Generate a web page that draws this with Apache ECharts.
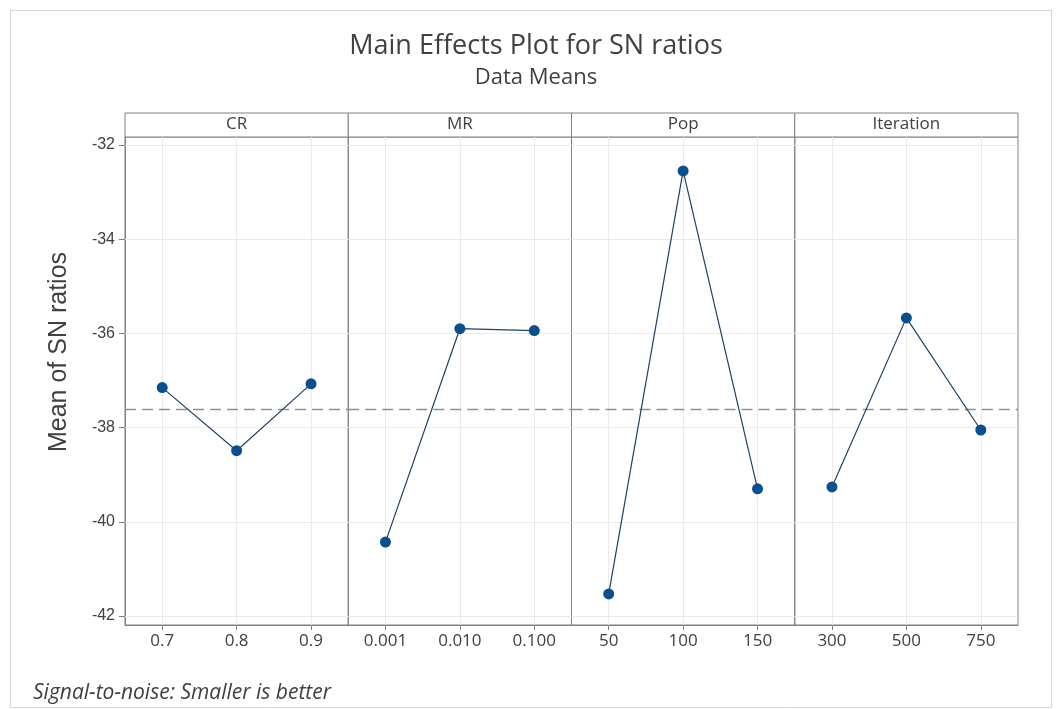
<!DOCTYPE html>
<html>
<head>
<meta charset="utf-8">
<script src="https://cdn.jsdelivr.net/npm/echarts@6/dist/echarts.min.js"></script>
<style>
html,body{margin:0;padding:0;background:#ffffff;}
#chart{width:1061px;height:709px;}
</style>
</head>
<body>
<div id="chart"></div>
<script>
// ---- data ----
const factors = ['CR', 'MR', 'Pop', 'Iteration'];
const crLevels = ['0.7', '0.8', '0.9'];
const mrLevels = ['0.001', '0.010', '0.100'];
const popLevels = ['50', '100', '150'];
const iterLevels = ['300', '500', '750'];
const crMeans = [-37.15, -38.49, -37.07];
const mrMeans = [-40.43, -35.90, -35.94];
const popMeans = [-41.53, -32.55, -39.30];
const iterMeans = [-39.26, -35.67, -38.05];
const overallMean = -37.61;
const yTicks = [-42, -40, -38, -36, -34, -32];
const yMin = -42.19;
const yMax = -31.83;

const titleText = 'Main Effects Plot for SN ratios';
const subtitleText = 'Data Means';
const yAxisTitle = 'Mean of SN ratios';
const footerText = 'Signal-to-noise: Smaller is better';

// ---- layout ----
const W = 1061, H = 709;
const plotLeft = 125, plotRight = 1018, plotTop = 137, plotBottom = 625, headerTop = 113;
const panelW = (plotRight - plotLeft) / 4;

const levels = [crLevels, mrLevels, popLevels, iterLevels];
const means = [crMeans, mrMeans, popMeans, iterMeans];

const axisGray = '#808080';
const textGray = '#404040';

const grids = [], xAxes = [], yAxes = [], series = [], graphics = [];

factors.forEach((f, i) => {
  grids.push({
    left: plotLeft + i * panelW,
    width: panelW,
    top: plotTop,
    height: plotBottom - plotTop,
    show: true,
    borderColor: axisGray,
    borderWidth: 1,
    backgroundColor: 'transparent',
    containLabel: false
  });
  xAxes.push({
    type: 'category',
    gridIndex: i,
    data: levels[i],
    boundaryGap: true,
    axisLine: { show: true, lineStyle: { color: axisGray, width: 1 } },
    axisTick: { show: true, alignWithLabel: true, length: 5, lineStyle: { color: axisGray } },
    axisLabel: { show: true, color: textGray, fontSize: 17, fontFamily: 'Open Sans', margin: 8 },
    splitLine: { show: false }
  });
  yAxes.push({
    type: 'value',
    gridIndex: i,
    min: yMin,
    max: yMax,
    axisLine: { show: i === 0, lineStyle: { color: axisGray, width: 1 } },
    axisTick: { show: i === 0, length: 6, customValues: yTicks, lineStyle: { color: axisGray } },
    axisLabel: {
      show: i === 0, customValues: yTicks, color: textGray, fontSize: 16,
      fontFamily: 'Liberation Sans', margin: 10,
      formatter: v => String(v)
    },
    splitLine: { show: false }
  });
  // gridlines (faint)
  series.push({
    type: 'line',
    xAxisIndex: i, yAxisIndex: i,
    data: means[i],
    symbol: 'none',
    lineStyle: { opacity: 0 },
    silent: true,
    z: 1,
    animation: false,
    markLine: {
      silent: true,
      symbol: 'none',
      animation: false,
      label: { show: false },
      lineStyle: { color: '#ebebeb', width: 1, type: 'solid' },
      data: yTicks.map(v => ({ yAxis: v })).concat(levels[i].map(c => ({ xAxis: c })))
    }
  });
  // overall mean dashed line
  series.push({
    type: 'line',
    xAxisIndex: i, yAxisIndex: i,
    data: means[i],
    symbol: 'none',
    lineStyle: { opacity: 0 },
    silent: true,
    z: 2,
    animation: false,
    markLine: {
      silent: true,
      symbol: 'none',
      animation: false,
      label: { show: false },
      lineStyle: { color: '#8f8f8f', width: 1.3, type: [11, 6] },
      data: [{ yAxis: overallMean }]
    }
  });
  // main effects
  series.push({
    type: 'line',
    name: f,
    xAxisIndex: i, yAxisIndex: i,
    data: means[i],
    symbol: 'circle',
    symbolSize: 11,
    itemStyle: { color: '#0b4f8c' },
    lineStyle: { color: '#1f4064', width: 1.2 },
    z: 5,
    animation: false
  });
  // header strip
  graphics.push({
    type: 'rect',
    shape: { x: plotLeft + i * panelW, y: headerTop, width: panelW, height: plotTop - headerTop },
    style: { fill: '#ffffff', stroke: axisGray, lineWidth: 1 },
    silent: true
  });
  graphics.push({
    type: 'text',
    x: plotLeft + (i + 0.5) * panelW,
    y: (headerTop + plotTop) / 2 - 1,
    style: { text: f, fill: textGray, fontSize: 17, fontFamily: 'Open Sans', align: 'center', verticalAlign: 'middle' },
    silent: true
  });
});

// outer frame
graphics.unshift({
  type: 'rect',
  shape: { x: 10.5, y: 10.5, width: 1041, height: 697 },
  style: { fill: 'none', stroke: '#d6d6d6', lineWidth: 1 },
  silent: true,
  z: -10
});
// titles
graphics.push({
  type: 'text', x: 536, y: 33,
  style: { text: titleText, fill: textGray, fontSize: 27, fontFamily: 'Open Sans', align: 'center', verticalAlign: 'top' }
});
graphics.push({
  type: 'text', x: 536, y: 67,
  style: { text: subtitleText, fill: textGray, fontSize: 22, fontFamily: 'Open Sans', align: 'center', verticalAlign: 'top' }
});
// y axis title
graphics.push({
  type: 'text', x: 59, y: 352, rotation: Math.PI / 2,
  style: { text: yAxisTitle, fill: textGray, fontSize: 25, fontFamily: 'Liberation Sans', align: 'center', verticalAlign: 'middle' }
});
// footer
graphics.push({
  type: 'text', x: 33, y: 693,
  style: { text: footerText, fill: textGray, fontSize: 21, fontStyle: 'italic', fontFamily: 'Open Sans', align: 'left', verticalAlign: 'middle' }
});

const chart = echarts.init(document.getElementById('chart'), null, { renderer: 'canvas' });
chart.setOption({
  backgroundColor: '#ffffff',
  animation: false,
  grid: grids,
  xAxis: xAxes,
  yAxis: yAxes,
  series: series,
  graphic: graphics
});
</script>
</body>
</html>
